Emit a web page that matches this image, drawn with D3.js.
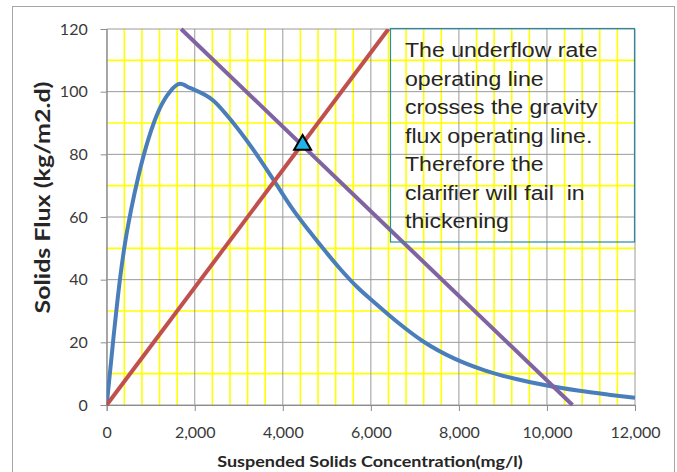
<!DOCTYPE html>
<html>
<head>
<meta charset="utf-8">
<script src="https://cdn.jsdelivr.net/npm/d3@7"></script>
<style>
  body { margin: 0; background: #fff; }
  svg { display: block; }
</style>
</head>
<body>
<svg id="chart" width="677" height="472"></svg>
<script>
// gravity flux curve (mg/l, kg/m2.d)
const gravityConc = [0, 150, 300, 420, 550, 720, 950, 1200, 1437, 1664, 1891, 2420, 2875, 3329, 3783, 4200, 4600, 5000, 5300, 5700, 6100, 6600, 7200, 7900, 8600, 9300, 10000, 10700, 11400, 12000];
const gravityFlux = [0, 21, 40, 52, 62, 73, 85, 94.5, 100, 102.5, 101.2, 97.2, 90, 81.5, 72, 63, 55.5, 48.5, 43.5, 37.5, 32.5, 26.5, 20.2, 14.8, 11, 8.3, 6.2, 4.6, 3.3, 2.3];

// underflow rate operating line
const underflowConc = [0, 6400];
const underflowFlux = [0, 120];

// gravity flux operating line
const operatingConc = [1690, 10580];
const operatingFlux = [120, 0];

// crossing point
const crossPoint = [4450, 83];

const xTicks = [0, 2000, 4000, 6000, 8000, 10000, 12000];
const yTicks = [0, 20, 40, 60, 80, 100, 120];

const noteLines = [
  "The underflow rate",
  "operating line",
  "crosses the gravity",
  "flux operating line.",
  "Therefore the",
  "clarifier will fail  in",
  "thickening"
];

const svg = d3.select("#chart");

// frame
svg.append("rect")
   .attr("x", 12.5).attr("y", 6.5)
   .attr("width", 662).attr("height", 490)
   .attr("fill", "#fff")
   .attr("stroke", "#a6a6a6");

const x = d3.scaleLinear().domain([0, 12000]).range([106.7, 635]);
const y = d3.scaleLinear().domain([0, 120]).range([405, 29]);

const g = svg.append("g");

// minor grid (yellow)
g.selectAll("line.vminor")
  .data(d3.range(0, 12001, 400).filter(v => v % 2000 !== 0))
  .enter().append("line")
    .attr("x1", d => x(d)).attr("x2", d => x(d))
    .attr("y1", y(0)).attr("y2", y(120))
    .attr("stroke", "#ffff00").attr("stroke-width", 1.6);

g.selectAll("line.hminor")
  .data(d3.range(10, 120, 20))
  .enter().append("line")
    .attr("y1", d => y(d)).attr("y2", d => y(d))
    .attr("x1", x(0)).attr("x2", x(12000))
    .attr("stroke", "#ffff00").attr("stroke-width", 1.6);

// major grid (gray)
g.selectAll("line.vmajor")
  .data(xTicks)
  .enter().append("line")
    .attr("x1", d => x(d)).attr("x2", d => x(d))
    .attr("y1", y(0)).attr("y2", y(120))
    .attr("stroke", "#9a9a9a").attr("stroke-width", 1);

g.selectAll("line.hmajor")
  .data(yTicks)
  .enter().append("line")
    .attr("y1", d => y(d)).attr("y2", d => y(d))
    .attr("x1", x(0)).attr("x2", x(12000))
    .attr("stroke", "#9a9a9a").attr("stroke-width", 1);

// axes
const xAxis = g.append("g")
  .attr("transform", `translate(0,${y(0)})`)
  .call(d3.axisBottom(x).tickValues(xTicks).tickSize(6).tickPadding(16)
        .tickFormat(d3.format(",")));
const yAxis = g.append("g")
  .attr("transform", `translate(${x(0)},0)`)
  .call(d3.axisLeft(y).tickValues(yTicks).tickSize(6).tickPadding(13));

[xAxis, yAxis].forEach(a => {
  a.select(".domain").attr("stroke", "#8c8c8c");
  a.selectAll(".tick line").attr("stroke", "#8c8c8c");
  a.selectAll("text")
   .style("font-family", "Lato, 'Open Sans', sans-serif")
   .style("font-size", "16px")
   .attr("fill", "#3a3a3a");
});

// clip for series
svg.append("clipPath").attr("id", "plot")
   .append("rect")
   .attr("x", x(0)).attr("y", y(120))
   .attr("width", x(12000) - x(0)).attr("height", y(0) - y(120) + 2);

const line = d3.line()
  .x(d => x(d[0]))
  .y(d => y(d[1]));

const series = g.append("g").attr("clip-path", "url(#plot)");

series.append("path")
  .datum(d3.zip(gravityConc, gravityFlux))
  .attr("d", line.curve(d3.curveMonotoneX))
  .attr("fill", "none")
  .attr("stroke", "#4a7ebb")
  .attr("stroke-width", 4)
  .attr("stroke-linejoin", "round");

line.curve(d3.curveLinear);

series.append("path")
  .datum(d3.zip(underflowConc, underflowFlux))
  .attr("d", line)
  .attr("fill", "none")
  .attr("stroke", "#c0504d")
  .attr("stroke-width", 4);

g.append("path")
  .datum(d3.zip(operatingConc, operatingFlux))
  .attr("d", line)
  .attr("fill", "none")
  .attr("stroke", "#8064a2")
  .attr("stroke-width", 4);

// crossing marker
g.append("path")
  .attr("d", d3.symbol().type(d3.symbolTriangle).size(125))
  .attr("transform", `translate(${x(crossPoint[0])},${y(crossPoint[1])})`)
  .attr("fill", "#1fb5e8")
  .attr("stroke", "#000")
  .attr("stroke-width", 2);

// note box
svg.append("rect")
   .attr("x", 390.5).attr("y", 28.5)
   .attr("width", 244).attr("height", 213.5)
   .attr("fill", "none")
   .attr("stroke", "#2a8aa0")
   .attr("stroke-width", 1.2);

const note = svg.append("g")
  .attr("transform", "translate(405,0) scale(1.1,1)");

note.selectAll("text")
  .data(noteLines)
  .enter().append("text")
    .attr("x", 0)
    .attr("y", (d, i) => 57.3 + i * 28.5)
    .text(d => d)
    .style("font-family", "'Liberation Sans', Arial, sans-serif")
    .style("font-size", "21px")
    .style("white-space", "pre")
    .attr("fill", "#262626");

// axis titles
svg.append("text")
   .attr("transform", "translate(370,466.5) scale(1.2,1)")
   .attr("text-anchor", "middle")
   .style("font-family", "Lato, 'Open Sans', sans-serif")
   .style("font-size", "15px")
   .style("font-weight", "bold")
   .attr("fill", "#262626")
   .text("Suspended Solids Concentration(mg/l)");

svg.append("text")
   .attr("transform", "translate(49.5,197.5) rotate(-90) scale(1.25,1)")
   .attr("text-anchor", "middle")
   .style("font-family", "Lato, 'Open Sans', sans-serif")
   .style("font-size", "20px")
   .style("font-weight", "bold")
   .attr("fill", "#262626")
   .text("Solids Flux (kg/m2.d)");
</script>
</body>
</html>
